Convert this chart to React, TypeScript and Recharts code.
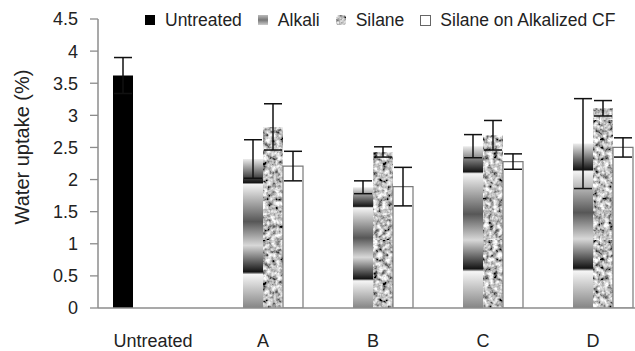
import { BarChart, Bar, XAxis, YAxis, ErrorBar } from 'recharts';

const categories = ['Untreated', 'A', 'B', 'C', 'D'];
const untreated = [3.62, null, null, null, null];
const untreatedErr = [0.28, null, null, null, null];
const alkali = [null, 2.32, 1.88, 2.52, 2.56];
const alkaliErr = [null, 0.3, 0.1, 0.18, 0.7];
const silane = [null, 2.82, 2.43, 2.69, 3.11];
const silaneErr = [null, 0.36, 0.08, 0.23, 0.12];
const silaneAlk = [null, 2.21, 1.89, 2.28, 2.5];
const silaneAlkErr = [null, 0.23, 0.3, 0.12, 0.15];
const yTicks = [0, 0.5, 1, 1.5, 2, 2.5, 3, 3.5, 4, 4.5];

const data = categories.map((name, i) => ({
  name,
  untreated: untreated[i],
  untreatedErr: untreatedErr[i],
  alkali: alkali[i],
  alkaliErr: alkaliErr[i],
  silane: silane[i],
  silaneErr: silaneErr[i],
  silaneAlk: silaneAlk[i],
  silaneAlkErr: silaneAlkErr[i],
}));

const font = '"Liberation Sans", Arial, sans-serif';
const axisColor = '#8c8c8c';
const textColor = '#222';

const legendItems = [
  { label: 'Untreated', icon: <rect x={0} y={0} width={10} height={10} fill="#000" /> },
  { label: 'Alkali', icon: <rect x={0} y={0} width={10} height={10} fill="url(#alkaliIcon)" /> },
  { label: 'Silane', icon: <rect x={0} y={0} width={10} height={10} rx={3} fill="url(#silaneFill)" /> },
  {
    label: 'Silane on Alkalized CF',
    icon: <rect x={0.5} y={0.5} width={10} height={10} fill="#fff" stroke="#666" strokeWidth={1} />,
  },
];

const errProps = { width: 9, stroke: '#111', strokeWidth: 1.5, direction: 'y' as const };

export default function App() {
  return (
    <div
      style={{
        position: 'absolute',
        left: 0,
        top: 0,
        width: 635,
        height: 351,
        overflow: 'hidden',
        background: '#fff',
        fontFamily: font,
      }}
    >
      <BarChart
        width={660}
        height={351}
        data={data}
        margin={{ top: 19, right: 12, bottom: 0, left: 0 }}
        barCategoryGap={15}
        barGap={0}
      >
        <defs>
          <linearGradient id="alkaliFill" x1="0" y1="0" x2="0" y2="1">
            <stop offset="0" stopColor="#ececec" />
            <stop offset="0.158" stopColor="#151515" />
            <stop offset="0.17" stopColor="#f4f4f4" />
            <stop offset="0.42" stopColor="#575757" />
            <stop offset="0.58" stopColor="#d8d8d8" />
            <stop offset="0.758" stopColor="#141414" />
            <stop offset="0.775" stopColor="#f6f6f6" />
            <stop offset="1" stopColor="#858585" />
          </linearGradient>
          <linearGradient id="alkaliIcon" x1="0" y1="0" x2="0" y2="1">
            <stop offset="0" stopColor="#bbb" />
            <stop offset="0.5" stopColor="#777" />
            <stop offset="1" stopColor="#ccc" />
          </linearGradient>
          <filter id="speckle" x="0" y="0" width="100%" height="100%">
            <feTurbulence type="fractalNoise" baseFrequency="0.22" numOctaves={3} seed={4} result="noise" />
            <feColorMatrix
              in="noise"
              type="matrix"
              values="1.9 0 0 0 -0.42  1.9 0 0 0 -0.42  1.9 0 0 0 -0.42  0 0 0 0 1"
            />
          </filter>
          <pattern id="silaneFill" patternUnits="userSpaceOnUse" width={120} height={120}>
            <rect width={120} height={120} fill="#999" filter="url(#speckle)" />
          </pattern>
        </defs>
        <XAxis
          dataKey="name"
          height={43}
          axisLine={{ stroke: axisColor, strokeWidth: 1.5 }}
          tickLine={false}
          tickMargin={20}
          tick={{ fill: textColor, fontSize: 18, fontFamily: font }}
          interval={0}
        />
        <YAxis
          domain={[0, 4.5]}
          ticks={yTicks}
          width={98}
          axisLine={{ stroke: axisColor, strokeWidth: 1.5 }}
          tickLine={{ stroke: axisColor, strokeWidth: 1.3 }}
          tickSize={8}
          tickMargin={12}
          tick={{ fill: textColor, fontSize: 18, fontFamily: font }}
          allowDataOverflow
          label={{
            content: () => (
              <text
                x={29}
                y={147}
                transform="rotate(-90, 29, 147)"
                textAnchor="middle"
                fill={textColor}
                fontSize={20}
                fontFamily={font}
              >
                Water uptake (%)
              </text>
            ),
          }}
        />
        <Bar dataKey="untreated" fill="#000" isAnimationActive={false}>
          <ErrorBar dataKey="untreatedErr" {...errProps} />
        </Bar>
        <Bar dataKey="alkali" fill="url(#alkaliFill)" isAnimationActive={false}>
          <ErrorBar dataKey="alkaliErr" {...errProps} />
        </Bar>
        <Bar dataKey="silane" fill="url(#silaneFill)" isAnimationActive={false}>
          <ErrorBar dataKey="silaneErr" {...errProps} />
        </Bar>
        <Bar dataKey="silaneAlk" fill="#fff" stroke="#7a7a7a" strokeWidth={1.2} isAnimationActive={false}>
          <ErrorBar dataKey="silaneAlkErr" {...errProps} />
        </Bar>
      </BarChart>
      <div
        style={{
          position: 'absolute',
          left: 145,
          top: 10,
          display: 'flex',
          alignItems: 'center',
          fontSize: 17.5,
          color: textColor,
          whiteSpace: 'nowrap',
        }}
      >
        {legendItems.map((item) => (
          <div key={item.label} style={{ display: 'flex', alignItems: 'center', marginRight: 16 }}>
            <svg width={11} height={11} style={{ marginRight: 9 }}>
              {item.icon}
            </svg>
            <span>{item.label}</span>
          </div>
        ))}
      </div>
    </div>
  );
}
